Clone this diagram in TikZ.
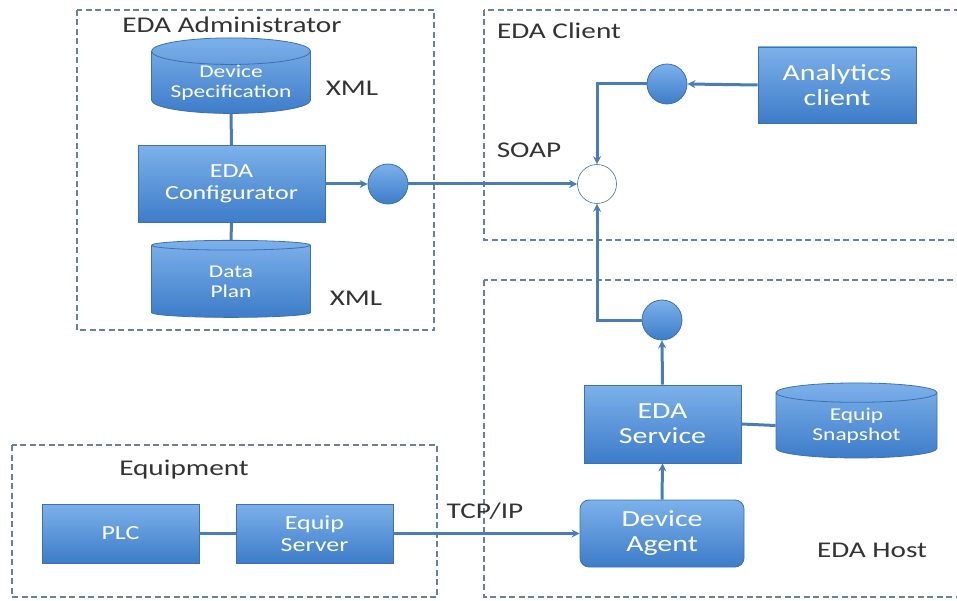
\documentclass[tikz,border=0pt]{standalone}
\usepackage{fontspec}
\setmainfont{Carlito}[FakeStretch=1.3]
\usetikzlibrary{shapes.geometric,arrows.meta}
\definecolor{boxtop}{HTML}{7CB1EA}
\definecolor{boxbot}{HTML}{3D7CC9}
\definecolor{boxedge}{HTML}{3E70AE}
\definecolor{wire}{HTML}{4A7CBA}
\definecolor{frame}{HTML}{6A7F99}
\definecolor{lbl}{HTML}{333333}
\tikzset{
  bx/.style={rectangle, draw=boxedge, line width=0.8pt, top color=boxtop, bottom color=boxbot,
    text=white, align=center, font=\fontsize{20}{22}\selectfont, inner sep=0pt},
  bigtext/.style={font=\fontsize{23}{25}\selectfont},
  db/.style={cylinder, shape border rotate=90, aspect=0.22, draw=boxedge, line width=0.8pt,
    top color=boxtop, bottom color=boxbot, text=white, align=center,
    font=\fontsize{18}{20}\selectfont, inner sep=0pt},
  dot/.style={circle, draw=boxedge, line width=0.8pt, top color=boxtop, bottom color=boxbot,
    minimum size=40pt, inner sep=0pt},
  hubc/.style={circle, draw=boxedge, line width=0.6pt, fill=white, minimum size=39pt, inner sep=0pt},
  wireline/.style={draw=wire, line width=3pt},
  wirearrow/.style={wireline, -{Stealth[length=8pt,width=8pt]}},
  frm/.style={draw=frame, line width=1.1pt, dash pattern=on 6pt off 3.5pt},
  lab/.style={text=lbl, font=\fontsize{22.5}{24}\selectfont, inner sep=0pt},
}
\begin{document}
\begin{tikzpicture}[x=1pt,y=-1pt]
\useasboundingbox (0,0) rectangle (957,601);
% frames
\draw[frm] (77,10) rectangle (434,330);
\draw[frm] (484,10) rectangle (962,240);
\draw[frm] (484,280) rectangle (962,597);
\draw[frm] (12,445) rectangle (437,597);
% labels
\node[lab] (tadmin) at (232,25) {EDA Administrator};
\node[lab] (tclient) at (559,31) {EDA Client};
\node[lab] (tequip) at (184,470) {Equipment};
\node[lab] (thost) at (872,550) {EDA Host};
\node[lab] (txml1) at (352,88) {XML};
\node[lab] (txml2) at (356,298) {XML};
\node[lab] (tsoap) at (529,150) {SOAP};
\node[lab] (ttcp) at (485,511) {TCP/IP};
% nodes
\node[db, minimum width=159pt, minimum height=69pt] (spec) at (231,82.5) {Device\\Specification};
\node[bx, minimum width=187pt, minimum height=77pt] (conf) at (231.5,184) {EDA\\Configurator};
\node[db, minimum width=159pt, minimum height=77pt] (plan) at (231,281.5) {Data\\Plan};
\node[dot] (c1) at (388,184) {};
\node[hubc] (hub) at (597,184) {};
\node[dot] (c2) at (667,84) {};
\node[bx, bigtext, minimum width=158pt, minimum height=76pt] (ana) at (837,85) {Analytics\\client};
\node[dot] (c3) at (662,320) {};
\node[bx, bigtext, minimum width=157pt, minimum height=78pt] (svc) at (662.5,424) {EDA\\Service};
\node[db, minimum width=161pt, minimum height=75pt] (snap) at (856.5,425.5) {Equip\\Snapshot};
\node[bx, bigtext, rounded corners=9pt, minimum width=164pt, minimum height=67pt] (agent) at (662,533.5) {Device\\Agent};
\node[bx, minimum width=157pt, minimum height=59pt] (plc) at (120.5,533.5) {PLC};
\node[bx, minimum width=157pt, minimum height=59pt] (srv) at (314.5,533.5) {Equip\\Server};
% connectors
\draw[wireline] (spec.south) -- (conf.north);
\draw[wireline] (conf.south) -- (plan.north);
\draw[wirearrow] (conf.east) -- (c1.west);
\draw[wirearrow] (c1.east) -- (hub.west);
\draw[wirearrow] (ana.west) -- (c2.east);
\draw[wirearrow] (c2.west) -| (hub.north);
\draw[wirearrow] (c3.west) -| (hub.south);
\draw[wirearrow] (svc.north) -- (c3.south);
\draw[wirearrow] (agent.north) -- (svc.south);
\draw[wireline] (svc.east) -- (snap.west);
\draw[wireline] (plc.east) -- (srv.west);
\draw[wirearrow] (srv.east) -- (agent.west);
\end{tikzpicture}
\end{document}
